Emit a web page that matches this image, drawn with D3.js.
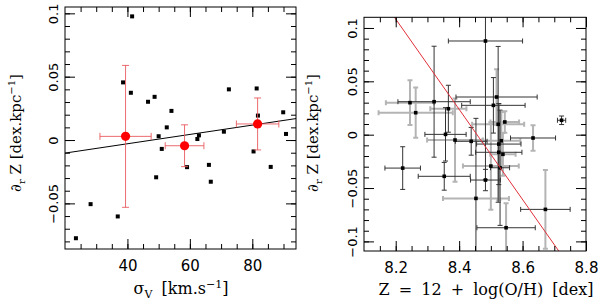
<!DOCTYPE html>
<html lang="en">
<head>
<meta charset="UTF-8">
<title>Metallicity gradient vs sigma and Z</title>
<script src="https://d3js.org/d3.v7.min.js"></script>
<style>
  body { margin: 0; background: #fff; }
</style>
</head>
<body>
<svg width="600" height="303"></svg>
<script>
// ---- left panel: gradient vs velocity dispersion ----
const sigmaV = [41.5, 38.6, 41.1, 46.6, 48.7, 54.1, 52.6, 50.0, 72.5, 81.4, 81.8, 89.9, 90.8,
                70.9, 62.9, 62.4, 51.0, 59.1, 66.1, 49.2, 66.7, 85.9, 80.4, 28.2, 36.9, 23.5];
const gradL = [0.0976, 0.0455, 0.0373, 0.0302, 0.0341, 0.0230, 0.0100, 0.0030, 0.0400, 0.0407, 0.0193, 0.0219, 0.0048,
               0.0066, 0.0037, 0.0008, -0.0070, -0.0214, -0.0196, -0.0294, -0.0329, -0.0212, -0.0090, -0.0506, -0.0603, -0.0775];
// binned means (red)
const binSigma = [39.4, 58.3, 81.7];
const binSigmaErr = [8.2, 6.2, 6.8];
const binGrad = [0.0029, -0.0045, 0.0127];
const binGradErr = [0.056, 0.0165, 0.0205];
const fitL = [-0.01766, 0.000368]; // intercept, slope

// ---- right panel: gradient vs metallicity ----
const metal = [8.483, 8.245, 8.321, 8.263, 8.366, 8.518, 8.508, 8.523, 8.544, 8.357, 8.387, 8.438, 8.533,
               8.525, 8.633, 8.723, 8.222, 8.353, 8.483, 8.500, 8.529, 8.453, 8.548, 8.672, 8.525, 8.538];
const metalErr = [0.117, 0.076, 0.114, 0.117, 0.057, 0.128, 0.100, 0.082, 0.045, 0.065, 0.088, 0.050, 0.060,
                  0.070, 0.071, 0.013, 0.056, 0.082, 0.047, 0.088, 0.030, 0.104, 0.092, 0.078, 0.073, 0.040];
const gradR = [0.0878, 0.0300, 0.0309, 0.0206, 0.0243, 0.0353, 0.0275, 0.0097, 0.0119, 0.0003, -0.0050, -0.0062, -0.0057,
               -0.0088, -0.0031, 0.0135, -0.0313, -0.0390, -0.0425, -0.0294, -0.0310, -0.0597, -0.0872, -0.0700, -0.0165, -0.0184];
const gradRErr = [0.130, 0.021, 0.052, 0.0235, 0.022, 0.026, 0.026, 0.073, 0.010, 0.025, 0.039, 0.013, 0.027,
                  0.038, 0.012, 0.004, 0.020, 0.013, 0.010, 0.041, 0.054, 0.075, 0.023, 0.037, 0.045, 0.020];
// 1 = grey bar, 0 = dark bar
const shadeX = [0, 1, 0, 1, 1, 0, 0, 1, 1, 0, 1, 0, 1, 0, 0, 0, 0, 0, 0, 1, 0, 1, 0, 0, 0, 1];
const shadeY = [0, 1, 0, 1, 0, 1, 0, 0, 1, 0, 1, 0, 1, 0, 1, 0, 0, 0, 0, 1, 0, 0, 1, 1, 1, 1];
const fitR = [3.5753, -0.4228];

const xTicksL = [40, 60, 80];
const yTicksL = [-0.05, 0, 0.05, 0.1];
const xTicksR = [8.2, 8.4, 8.6, 8.8];
const yTicksR = [-0.1, -0.05, 0, 0.05, 0.1];

const svg = d3.select("svg");
svg.append("rect").attr("width", 600).attr("height", 303).attr("fill", "#fff");

const xL = d3.scaleLinear().domain([20, 94]).range([65, 296]);
const yL = d3.scaleLinear().domain([-0.086, 0.105]).range([249, 7]);
const xR = d3.scaleLinear().domain([8.1, 8.8]).range([364, 586]);
const yR = d3.scaleLinear().domain([-0.109, 0.11]).range([251, 17.3]);

const fmtY = d => (d < 0 ? "\u2212" : "") + String(Math.abs(d));

function drawAxes(x, y, xMajor, xMinor, yMajor, yMinor) {
    const [xa, xb] = x.range(), [yb, ya] = y.range();
    const g = svg.append("g");
    const sides = [
        { axis: () => d3.axisBottom(x), tr: `translate(0,${yb})`, major: xMajor, minor: xMinor, lab: "x" },
        { axis: () => d3.axisTop(x), tr: `translate(0,${ya})`, major: xMajor, minor: xMinor, lab: null },
        { axis: () => d3.axisLeft(y), tr: `translate(${xa},0)`, major: yMajor, minor: yMinor, lab: "y" },
        { axis: () => d3.axisRight(y), tr: `translate(${xb},0)`, major: yMajor, minor: yMinor, lab: null }
    ];
    sides.forEach(s => {
        g.append("g").attr("transform", s.tr)
            .call(s.axis().tickValues(s.minor).tickSize(-5).tickFormat(""))
            .call(a => a.select(".domain").remove());
        const m = g.append("g").attr("transform", s.tr)
            .call(s.axis().tickValues(s.major).tickSize(-10)
                .tickFormat(s.lab === "y" ? fmtY : (s.lab === "x" ? d => String(d) : "")))
            .call(a => a.select(".domain").remove());
        m.attr("font-family", "'DejaVu Sans', sans-serif");
        if (s.lab === "x") {
            m.attr("font-size", 15);
            m.selectAll("text").attr("y", 22).attr("dy", 0).attr("fill", "#000");
        } else if (s.lab === "y") {
            m.attr("font-size", 13);
            m.selectAll("text").attr("x", 0).attr("dy", 0)
                .attr("text-anchor", "middle")
                .attr("transform", "translate(-7,0) rotate(-90)")
                .attr("fill", "#000");
        }
    });
    g.append("rect")
        .attr("x", xa).attr("y", ya)
        .attr("width", xb - xa).attr("height", yb - ya)
        .attr("fill", "none").attr("stroke", "#000");
}

function clipFor(id, x, y) {
    const [xa, xb] = x.range(), [yb, ya] = y.range();
    svg.append("clipPath").attr("id", id).append("rect")
        .attr("x", xa).attr("y", ya).attr("width", xb - xa).attr("height", yb - ya);
    return svg.append("g").attr("clip-path", `url(#${id})`);
}

function errBar(g, x1, y1, x2, y2, cap, color, w) {
    g.append("line").attr("x1", x1).attr("y1", y1).attr("x2", x2).attr("y2", y2)
        .attr("stroke", color).attr("stroke-width", w);
    if (y1 === y2) {
        [x1, x2].forEach(cx => g.append("line").attr("x1", cx).attr("x2", cx)
            .attr("y1", y1 - cap).attr("y2", y1 + cap).attr("stroke", color).attr("stroke-width", w));
    } else {
        [y1, y2].forEach(cy => g.append("line").attr("y1", cy).attr("y2", cy)
            .attr("x1", x1 - cap).attr("x2", x1 + cap).attr("stroke", color).attr("stroke-width", w));
    }
}

// ---------- left panel ----------
const gL = clipFor("clipL", xL, yL);
gL.append("line")
    .attr("x1", xL(20)).attr("y1", yL(fitL[0] + fitL[1] * 20))
    .attr("x2", xL(94)).attr("y2", yL(fitL[0] + fitL[1] * 94))
    .attr("stroke", "#000").attr("stroke-width", 1);

gL.selectAll("rect.pt").data(sigmaV).join("rect").attr("class", "pt")
    .attr("x", (d, i) => xL(d) - 2).attr("y", (d, i) => yL(gradL[i]) - 2)
    .attr("width", 4).attr("height", 4).attr("fill", "#000");

binSigma.forEach((s, i) => {
    const red = "#e85a5e";
    errBar(gL, xL(s - binSigmaErr[i]), yL(binGrad[i]), xL(s + binSigmaErr[i]), yL(binGrad[i]), 3.5, red, 0.9);
    errBar(gL, xL(s), yL(binGrad[i] + binGradErr[i]), xL(s), yL(binGrad[i] - binGradErr[i]), 3.5, red, 0.9);
});
gL.selectAll("circle.bin").data(binSigma).join("circle").attr("class", "bin")
    .attr("cx", d => xL(d)).attr("cy", (d, i) => yL(binGrad[i]))
    .attr("r", 4.6).attr("fill", "#ff0000");

drawAxes(xL, yL, xTicksL, d3.range(25, 94, 5), yTicksL, d3.range(-0.08, 0.105, 0.01));

// ---------- right panel ----------
const gR = clipFor("clipR", xR, yR);
const shades = [{ c: "#333", w: 1 }, { c: "#b4b4b4", w: 2 }];
[1, 0].forEach(pass => {
    metal.forEach((m, i) => {
        if (shadeX[i] === pass) {
            const s = shades[pass];
            errBar(gR, xR(m - metalErr[i]), yR(gradR[i]), xR(m + metalErr[i]), yR(gradR[i]), 2.5, s.c, s.w);
        }
        if (shadeY[i] === pass) {
            const s = shades[pass];
            errBar(gR, xR(m), yR(gradR[i] + gradRErr[i]), xR(m), yR(gradR[i] - gradRErr[i]), 2.5, s.c, s.w);
        }
    });
});
gR.selectAll("rect.pt").data(metal).join("rect").attr("class", "pt")
    .attr("x", d => xR(d) - 1.8).attr("y", (d, i) => yR(gradR[i]) - 1.8)
    .attr("width", 3.6).attr("height", 3.6).attr("fill", "#000");

gR.append("line")
    .attr("x1", xR(8.1)).attr("y1", yR(fitR[0] + fitR[1] * 8.1))
    .attr("x2", xR(8.8)).attr("y2", yR(fitR[0] + fitR[1] * 8.8))
    .attr("stroke", "#e0303a").attr("stroke-width", 1);

drawAxes(xR, yR, xTicksR, d3.range(8.15, 8.8, 0.05), yTicksR, d3.range(-0.1, 0.105, 0.01));

// ---------- axis titles ----------
const serif = "'DejaVu Serif', serif";
function yTitle(x, y) {
    const t = svg.append("text").attr("transform", `translate(${x},${y}) rotate(-90)`)
        .attr("text-anchor", "middle").attr("font-family", serif).attr("font-size", 15).attr("fill", "#000");
    t.append("tspan").text("\u2202");
    t.append("tspan").attr("font-size", 10).attr("dy", 4).text("r");
    t.append("tspan").attr("dy", -4).text(" Z [dex.kpc");
    t.append("tspan").attr("font-size", 10).attr("dy", -6).text("\u22121");
    t.append("tspan").attr("dy", 6).text("]");
}
yTitle(21, 133);
yTitle(318, 133);

const xt = svg.append("text").attr("x", 181).attr("y", 294).attr("text-anchor", "middle")
    .attr("font-family", serif).attr("font-size", 16).attr("word-spacing", 4).attr("fill", "#000");
xt.append("tspan").text("\u03c3");
xt.append("tspan").attr("font-size", 11).attr("dy", 4).text("V");
xt.append("tspan").attr("dy", -4).text(" [km.s");
xt.append("tspan").attr("font-size", 11).attr("dy", -6).text("\u22121");
xt.append("tspan").attr("dy", 6).text("]");

svg.append("text").attr("x", 486).attr("y", 295).attr("text-anchor", "middle")
    .attr("font-family", serif).attr("font-size", 16).attr("word-spacing", 4).attr("fill", "#000")
    .text("Z = 12 + log(O/H) [dex]");
</script>
</body>
</html>
